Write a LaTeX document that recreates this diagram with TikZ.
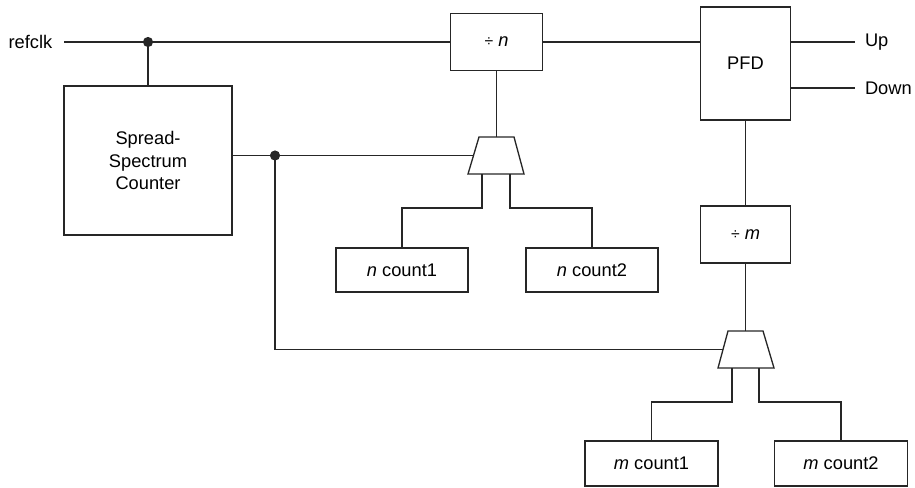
\documentclass[tikz,border=0pt]{standalone}
\usepackage{fontspec}
\setmainfont{Liberation Sans}

\tikzset{
  blk/.style={draw=black!85, line width=.75pt, fill=white, inner sep=0pt, align=center,
    font=\fontsize{10.4}{13}\selectfont},
  wire/.style={draw=black!85, line width=.75pt},
  lbl/.style={font=\fontsize{10.4}{13}\selectfont}
}

\begin{document}
\begin{tikzpicture}[x=.02cm, y=-.02cm]
    \useasboundingbox (0,0) rectangle (915,487);

    \node[lbl, anchor=east, inner xsep=6.5pt] (refclk) at (64,42) {refclk};
    \node[blk, minimum width=3.36cm, minimum height=2.98cm] (ssc) at (148,160.5) {Spread-\\Spectrum\\Counter};
    \node[blk, minimum width=1.84cm, minimum height=1.14cm] (divn) at (496.5,42) {{\small ÷} \textit{n}};
    \node[blk, minimum width=1.8cm, minimum height=2.26cm] (pfd) at (745.5,63.5) {PFD};
    \node[blk, minimum width=1.8cm, minimum height=1.14cm] (divm) at (745.5,234.5) {{\small ÷} \textit{m}};
    \node[lbl, anchor=west, inner xsep=5.5pt] (up) at (855,42) {Up};
    \node[lbl, anchor=west, inner xsep=5.5pt] (down) at (855,88) {Down};

    \node[blk, minimum width=2.64cm, minimum height=.88cm] (ncnt1) at (402,270) {\textit{n} count1};
    \node[blk, minimum width=2.64cm, minimum height=.88cm] (ncnt2) at (592,270) {\textit{n} count2};
    \node[blk, minimum width=2.66cm, minimum height=.9cm] (mcnt1) at (651.5,463.5) {\textit{m} count1};
    \node[blk, minimum width=2.66cm, minimum height=.9cm] (mcnt2) at (841,463.5) {\textit{m} count2};

    % multiplexers
    \draw[wire] (479,137) -- (514,137) -- (524,174) -- (468,174) -- cycle;
    \draw[wire] (728,331) -- (763,331) -- (774,368) -- (718,368) -- cycle;
    \coordinate (muxn-in) at (473.5,155.5);
    \coordinate (muxn-top) at (496.5,137);
    \coordinate (muxn-o1) at (482,174);
    \coordinate (muxn-o2) at (510,174);
    \coordinate (muxm-in) at (723,349.5);
    \coordinate (muxm-top) at (745.5,331);
    \coordinate (muxm-o1) at (732,368);
    \coordinate (muxm-o2) at (759,368);

    \coordinate (d1) at (148,42);
    \coordinate (d2) at (275,155.5);

    \draw[wire] (refclk.east) -- (d1) -- (divn.west);
    \draw[wire] (d1) -- (ssc.north);
    \draw[wire] (divn.east) -- (divn.east -| pfd.west);
    \draw[wire] (pfd.east |- up) -- (up.west);
    \draw[wire] (pfd.east |- down) -- (down.west);
    \draw[wire] (ssc.east |- d2) -- (d2) -- (muxn-in);
    \draw[wire] (divn.south) -- (muxn-top);
    \draw[wire] (muxn-o1) -- ++(0,34) -| (ncnt1.north);
    \draw[wire] (muxn-o2) -- ++(0,34) -| (ncnt2.north);
    \draw[wire] (pfd.south) -- (divm.north);
    \draw[wire] (divm.south) -- (muxm-top);
    \draw[wire] (d2) |- (muxm-in);
    \draw[wire] (muxm-o1) -- ++(0,34) -| (mcnt1.north);
    \draw[wire] (muxm-o2) -- ++(0,34) -| (mcnt2.north);

    \fill[black!85] (d1) circle(2.9pt);
    \fill[black!85] (d2) circle(2.9pt);
\end{tikzpicture}
\end{document}
